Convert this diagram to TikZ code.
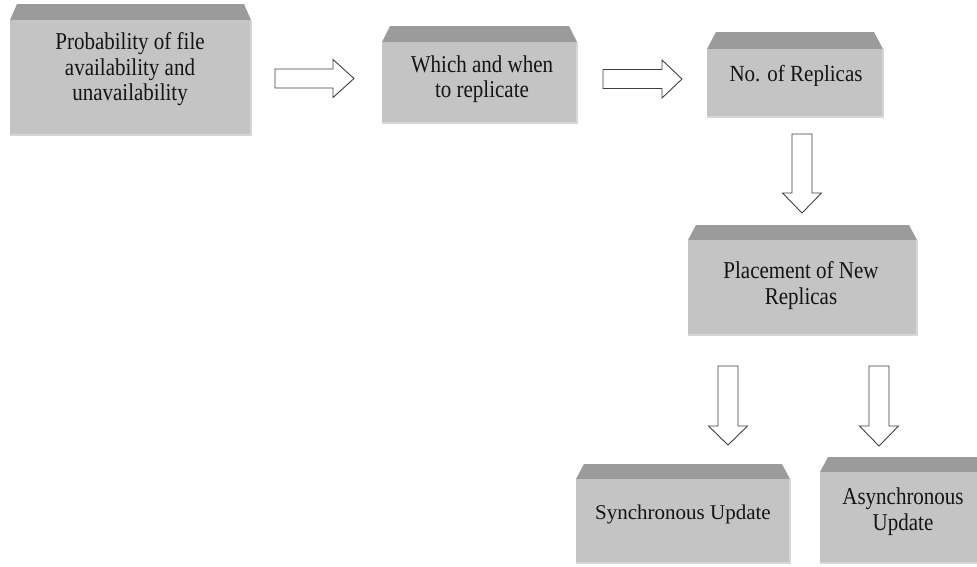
\documentclass[tikz,border=0pt]{standalone}
\usepackage{fontspec}
\setmainfont{Liberation Serif}
\definecolor{faceGray}{HTML}{C4C4C4}
\definecolor{bevelGray}{HTML}{9B9B9B}
\definecolor{edgeGray}{HTML}{D6D6D6}

% bevelled box: name, left, top of face, right, bottom, top of bevel, bevel inset
\newcommand\bevelbox[7]{%
  \fill[bevel] (#2,#3) -- (#2+#7,#6) -- (#4-#7,#6) -- (#4,#3) -- cycle;
  \node[face, minimum width=#4-#2, minimum height=#5-#3] (#1) at (#2,#3) {};
  \draw[edge] (#1.north east) -- (#1.south east) -- (#1.south west);
}
% box text, slightly stretched upwards: name, x, y, vertical stretch, line distance, text
\newcommand\boxtext[6]{%
  \begin{scope}[shift={(#2,#3)}]
    \node[boxlabel, yscale=#4, transform shape,
          font={\fontsize{21}{#5}\selectfont\lineskiplimit-100pt}] (#1) at (0,0) {#6};
  \end{scope}
}
% block arrow to the right: tail centre, shaft length, head length
\newcommand\rightblock[3]{%
  \draw[blockarrow] (#1) ++(0,-9.5) -- ++(#2,0) -- ++(0,-9.5) -- ++(#3,19)
    -- ++(-#3,19) -- ++(0,-9.5) -- ++(-#2,0) -- cycle;
}
% block arrow downwards: tail centre, shaft length, head length
\newcommand\downblock[3]{%
  \draw[blockarrow] (#1) ++(-10,0) -- ++(0,#2) -- ++(-9.5,0) -- ++(19.5,#3)
    -- ++(19.5,-#3) -- ++(-9.5,0) -- ++(0,-#2) -- cycle;
}

\begin{document}
\begin{tikzpicture}[x=1pt,y=-1pt,
  face/.style={fill=faceGray, draw=none, inner sep=0pt, outer sep=0pt, anchor=north west},
  bevel/.style={fill=bevelGray},
  edge/.style={draw=edgeGray, line width=1.5pt},
  boxlabel/.style={align=center, inner sep=0pt, text=black!92},
  blockarrow/.style={draw=black!75, fill=white, line width=0.9pt, line join=miter}]
\useasboundingbox (0,0) rectangle (977,566);
\clip (0,0) rectangle (977,566);

% boxes
\bevelbox{b1}{10}{20}{251}{135}{4}{7}
\bevelbox{b2}{382}{42}{577}{123}{26}{8}
\bevelbox{b3}{707}{49}{883}{117}{32}{9}
\bevelbox{b4}{688}{240}{917}{335}{225}{8}
\bevelbox{b5}{576}{479}{790}{563}{464}{8}
\bevelbox{b6}{820}{472}{990}{563}{457}{8}

% labels
\boxtext{t1}{130}{69.5}{1.15}{22.2}{Probability of file\\availability and\\unavailability}
\boxtext{t2}{482}{79.5}{1.15}{22}{Which and when\\to replicate}
\boxtext{t3}{796}{75.5}{1.1}{20}{No. of Replicas}
\boxtext{t4}{801}{285.5}{1.15}{22.3}{Placement of New\\Replicas}
\boxtext{t5}{683}{514}{1.0}{20}{Synchronous Update}
\boxtext{t6}{903}{512}{1.15}{22.6}{Asynchronous\\Update}

% arrows between the boxes
\coordinate (a1) at (275,78.5);
\coordinate (a2) at (603,79);
\coordinate (a3) at (802,134);
\coordinate (a4) at (728,366);
\coordinate (a5) at (879,366);
\rightblock{a1}{58}{21}
\rightblock{a2}{59}{20}
\downblock{a3}{59}{20}
\downblock{a4}{60}{19}
\downblock{a5}{60}{20}
\end{tikzpicture}
\end{document}
